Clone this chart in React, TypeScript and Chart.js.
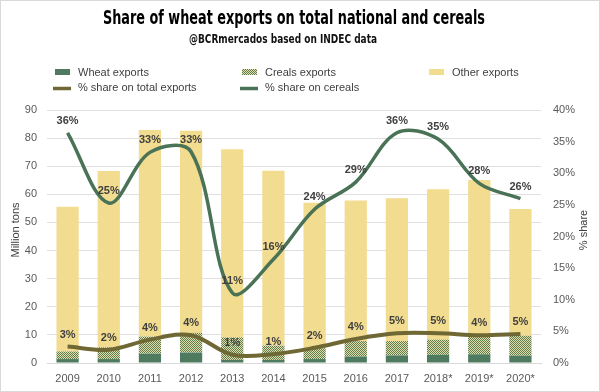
import React, { useEffect, useRef } from "react";
import { Chart, registerables } from "chart.js";

Chart.register(...registerables);

const years = ["2009", "2010", "2011", "2012", "2013", "2014", "2015", "2016", "2017", "2018*", "2019*", "2020*"];
// Million tons (stacked segments)
const wheatExports = [1.4, 1.4, 3.3, 3.7, 1.1, 1.1, 1.4, 2.3, 2.7, 2.9, 3.1, 2.6];
const cerealsExports = [2.7, 4.2, 6.1, 7.0, 8.0, 5.1, 3.9, 5.5, 5.1, 5.4, 6.6, 7.1];
const otherExports = [51.5, 62.7, 73.5, 71.9, 66.9, 62.2, 51.7, 50.0, 50.8, 53.5, 55.4, 45.1];
// % share
const shareTotal = [2.6, 2.1, 3.7, 4.4, 1.3, 1.4, 2.4, 3.8, 4.7, 4.7, 4.4, 4.6];
const shareCereals = [36.4, 25.3, 33.3, 33.4, 11.1, 16.4, 24.3, 28.6, 36.4, 35.4, 28.4, 26.0];

const TITLE = "Share of wheat exports on total national and cereals";
const SUBTITLE = "@BCRmercados based on INDEC data";
const LEFT_TITLE = "Million tons";
const RIGHT_TITLE = "% share";

const WHEAT = "#4e7a5f";
const OTHER = "#f1dc8f";
const LINE_TOTAL = "#6f6834";
const LINE_CEREALS = "#4a7256";
const TEXT = "#404040";
const TICK = "#595959";

function makeHatch(): CanvasPattern | string {
  const c = document.createElement("canvas");
  c.width = 2;
  c.height = 2;
  const g = c.getContext("2d");
  if (!g) return "#a4b182";
  g.fillStyle = "#e2dfae";
  g.fillRect(0, 0, 2, 2);
  g.fillStyle = "#5e7c4c";
  g.fillRect(0, 0, 1, 1);
  g.fillRect(1, 1, 1, 1);
  const p = g.createPattern(c, "repeat");
  return p || "#a4b182";
}

function fitText(ctx: CanvasRenderingContext2D, text: string, cx: number, cy: number, width: number) {
  const m = ctx.measureText(text).width;
  const s = width / m;
  ctx.save();
  ctx.translate(cx, cy);
  ctx.scale(s, 1);
  ctx.textAlign = "center";
  ctx.textBaseline = "middle";
  ctx.fillText(text, 0, 0);
  ctx.restore();
}

export default function App() {
  const ref = useRef<HTMLCanvasElement | null>(null);

  useEffect(() => {
    if (!ref.current) return;
    const hatch = makeHatch();

    const decor = {
      id: "decor",
      beforeDraw(chart: any) {
        const ctx = chart.ctx as CanvasRenderingContext2D;
        ctx.save();
        ctx.fillStyle = "#ffffff";
        ctx.fillRect(0, 0, chart.width, chart.height);
        ctx.strokeStyle = "#d9d9d9";
        ctx.lineWidth = 1;
        ctx.strokeRect(0.5, 0.5, chart.width - 1, chart.height - 1);
        ctx.restore();
      },
      afterDatasetsDraw(chart: any) {
        const ctx = chart.ctx as CanvasRenderingContext2D;
        ctx.save();
        ctx.font = "bold 11px 'Liberation Sans', Arial, sans-serif";
        ctx.fillStyle = TEXT;
        ctx.textAlign = "center";
        ctx.textBaseline = "middle";
        [3, 4].forEach((di) => {
          const meta = chart.getDatasetMeta(di);
          const vals = chart.data.datasets[di].data as number[];
          meta.data.forEach((pt: any, j: number) => {
            ctx.fillText(Math.round(vals[j]) + "%", pt.x, pt.y - 12);
          });
        });
        ctx.restore();
      },
      afterDraw(chart: any) {
        const ctx = chart.ctx as CanvasRenderingContext2D;
        ctx.save();
        // Title
        ctx.fillStyle = "#000000";
        ctx.font = "bold 20px 'Liberation Sans Narrow', 'DejaVu Sans Condensed', sans-serif";
        fitText(ctx, TITLE, 294, 19, 382);
        ctx.fillStyle = "#111111";
        ctx.font = "bold 13px 'Liberation Sans Narrow', 'DejaVu Sans Condensed', sans-serif";
        fitText(ctx, SUBTITLE, 283, 40, 188);

        // Legend
        ctx.font = "11px 'Liberation Sans', Arial, sans-serif";
        ctx.textAlign = "left";
        ctx.textBaseline = "middle";
        const cols = [55, 242, 429];
        const r1 = 72;
        const r2 = 87.5;
        const boxItems = [
          { label: chart.data.datasets[0].label, fill: WHEAT },
          { label: chart.data.datasets[1].label, fill: hatch },
          { label: chart.data.datasets[2].label, fill: OTHER },
        ];
        boxItems.forEach((it, i) => {
          ctx.fillStyle = it.fill as any;
          ctx.fillRect(cols[i], r1 - 3, 15, 6);
          ctx.fillStyle = TEXT;
          ctx.fillText(it.label, cols[i] + 23, r1 + 0.5);
        });
        const lineItems = [
          { label: chart.data.datasets[3].label, color: LINE_TOTAL },
          { label: chart.data.datasets[4].label, color: LINE_CEREALS },
        ];
        lineItems.forEach((it, i) => {
          ctx.strokeStyle = it.color;
          ctx.lineWidth = 3.5;
          ctx.beginPath();
          ctx.moveTo(cols[i] - 2, r2 + 1);
          ctx.lineTo(cols[i] + 16, r2 + 1);
          ctx.stroke();
          ctx.fillStyle = TEXT;
          ctx.fillText(it.label, cols[i] + 23, r2);
        });

        // Axis titles
        ctx.fillStyle = TEXT;
        ctx.textAlign = "center";
        ctx.font = "11px 'Liberation Sans', Arial, sans-serif";
        ctx.save();
        ctx.translate(16, 230);
        ctx.rotate(-Math.PI / 2);
        ctx.fillText(LEFT_TITLE, 0, 0);
        ctx.restore();
        ctx.save();
        ctx.translate(584, 230);
        ctx.rotate(-Math.PI / 2);
        ctx.fillText(RIGHT_TITLE, 0, 0);
        ctx.restore();
        ctx.restore();
      },
    };

    const tickFont = { family: "'Liberation Sans', Arial, sans-serif", size: 11 };

    const chart = new Chart(ref.current, {
      type: "bar",
      data: {
        labels: years,
        datasets: [
          { type: "bar", label: "Wheat exports", data: wheatExports, backgroundColor: WHEAT, yAxisID: "y", stack: "s", order: 1, barPercentage: 0.54, categoryPercentage: 1 },
          { type: "bar", label: "Creals exports", data: cerealsExports, backgroundColor: hatch as any, yAxisID: "y", stack: "s", order: 1, barPercentage: 0.54, categoryPercentage: 1 },
          { type: "bar", label: "Other exports", data: otherExports, backgroundColor: OTHER, yAxisID: "y", stack: "s", order: 1, barPercentage: 0.54, categoryPercentage: 1 },
          { type: "line", label: "% share on total exports", data: shareTotal, borderColor: LINE_TOTAL, borderWidth: 4, pointRadius: 0, tension: 0.35, yAxisID: "y1", order: 0, fill: false },
          { type: "line", label: "% share on cereals", data: shareCereals, borderColor: LINE_CEREALS, borderWidth: 3.5, pointRadius: 0, tension: 0.35, yAxisID: "y1", order: 0, fill: false },
        ] as any,
      },
      options: {
        responsive: false,
        maintainAspectRatio: false,
        animation: false,
        layout: { padding: { top: 110, bottom: 0, left: 0, right: 0 } },
        plugins: {
          legend: { display: false },
          title: { display: false },
          tooltip: { enabled: false },
        },
        scales: {
          x: {
            stacked: true,
            grid: { display: false },
            border: { display: true, color: "#d9d9d9" },
            ticks: { color: TICK, font: tickFont, padding: 1, maxRotation: 0, autoSkip: false },
            afterFit: (s: any) => { s.height = 29; },
          },
          y: {
            stacked: true,
            position: "left",
            min: 0,
            max: 90,
            ticks: { stepSize: 10, color: TICK, font: tickFont, padding: 10 },
            grid: { color: "#e0e0e0", drawTicks: false },
            border: { display: false },
            afterFit: (s: any) => { s.width = 47; },
          },
          y1: {
            position: "right",
            min: 0,
            max: 40,
            ticks: { stepSize: 5, color: TICK, font: tickFont, padding: 12, callback: (v: any) => v + "%" },
            grid: { display: false, drawTicks: false },
            border: { display: false },
            afterFit: (s: any) => { s.width = 59; },
          },
        },
      } as any,
      plugins: [decor],
    });

    return () => chart.destroy();
  }, []);

  return (
    <div style={{ position: "absolute", left: 0, top: 0, width: 600, height: 392 }}>
      <canvas ref={ref} width={600} height={392} />
    </div>
  );
}
